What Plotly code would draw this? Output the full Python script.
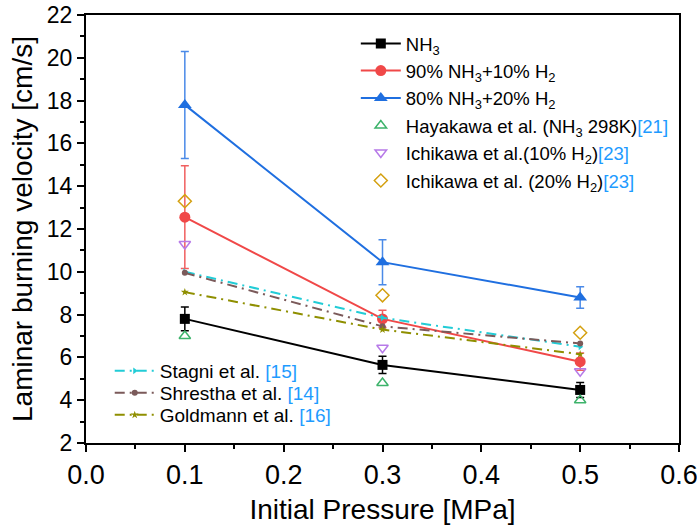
import plotly.graph_objects as go

pressure = [0.1, 0.3, 0.5]
x_ticks = [0.0, 0.1, 0.2, 0.3, 0.4, 0.5, 0.6]
x_tick_labels = ["0.0", "0.1", "0.2", "0.3", "0.4", "0.5", "0.6"]

nh3 = [7.8, 5.65, 4.48]
nh3_err = [0.55, 0.4, 0.35]
h10 = [12.55, 7.8, 5.8]
h10_err = [2.4, 0.4, 0.4]
h20 = [17.8, 10.45, 8.8]
h20_err = [2.5, 1.05, 0.5]

hayakawa = [7.0, 4.8, 4.0]
ichikawa10 = [11.3, 6.45, 5.35]
ichikawa20 = [13.3, 8.9, 7.15]

stagni = [10.0, 7.85, 6.5]
shrestha = [9.95, 7.45, 6.65]
goldmann = [9.05, 7.3, 6.15]

REF = "#1E9BFF"
FONT = "Liberation Sans, Arial, sans-serif"


def ref(n):
    return "<span style='color:" + REF + "'>[" + n + "]</span>"


fig = go.Figure()


def exp_trace(y, err, color, sym, size, name, ecol, lg):
    fig.add_trace(go.Scatter(
        x=pressure, y=y, mode="lines+markers", name=name, showlegend=True,
        line=dict(color=color, width=2),
        marker=dict(symbol=sym, size=size, color=color),
        error_y=dict(type="data", array=err, visible=True, color=ecol, thickness=1.5, width=4),
        legend=lg))


exp_trace(nh3, nh3_err, "#000000", "square", 10, "NH<sub>3</sub>", "#000000", "legend")
exp_trace(h10, h10_err, "#F04848", "circle", 11, "90% NH<sub>3</sub>+10% H<sub>2</sub>", "#F06060", "legend2")
exp_trace(h20, h20_err, "#1F6FE0", "triangle-up", 12, "80% NH<sub>3</sub>+20% H<sub>2</sub>", "#4A8AE8", "legend3")


def open_trace(y, color, sym, name, lg):
    fig.add_trace(go.Scatter(
        x=pressure, y=y, mode="markers", name=name, showlegend=True,
        marker=dict(symbol=sym, size=10, color=color, line=dict(color=color, width=1.5)),
        legend=lg))


open_trace(hayakawa, "#3DB36B", "triangle-up-open", "Hayakawa et al. (NH<sub>3</sub> 298K)" + ref("21"), "legend4")
open_trace(ichikawa10, "#B77AE8", "triangle-down-open", "Ichikawa et al.(10% H<sub>2</sub>)" + ref("23"), "legend5")
open_trace(ichikawa20, "#D4A010", "diamond-open", "Ichikawa et al. (20% H<sub>2</sub>)" + ref("23"), "legend6")


def model_trace(y, color, sym, name, lg):
    fig.add_trace(go.Scatter(
        x=pressure, y=y, mode="lines+markers", name=name, showlegend=True,
        line=dict(color=color, width=2, dash="10px,5px,2px,5px"),
        marker=dict(symbol=sym, size=6, color=color),
        legend=lg))


model_trace(stagni, "#22CCD6", "triangle-right", "Stagni et al. " + ref("15"), "legend7")
model_trace(shrestha, "#7B5A5A", "circle", "Shrestha et al. " + ref("14"), "legend8")
model_trace(goldmann, "#8F8F00", "star", "Goldmann et al. " + ref("16"), "legend9")

axis_common = dict(
    showline=True, linecolor="black", linewidth=2, mirror=True,
    ticks="outside", ticklen=7, tickwidth=2, tickcolor="black",
    showgrid=False, zeroline=False, ticklabeloverflow="allow", automargin=False,
)

fig.update_xaxes(
    range=[0, 0.6], tickmode="array", tickvals=x_ticks, ticktext=x_tick_labels,
    tickfont=dict(family=FONT, size=27, color="black"),
    minor=dict(dtick=0.05, tick0=0, ticks="outside", ticklen=4, tickwidth=2, tickcolor="black"),
    title=dict(text="Initial Pressure [MPa]", font=dict(family=FONT, size=28, color="black"), standoff=10),
    **axis_common)
fig.update_yaxes(
    range=[2, 22], dtick=2,
    tickfont=dict(family=FONT, size=23, color="black"),
    minor=dict(dtick=1, ticks="outside", ticklen=4, tickwidth=2, tickcolor="black"),
    title=dict(text="Laminar burning velocity [cm/s]", font=dict(family=FONT, size=28, color="black"), standoff=6),
    **axis_common)


# legend rows (pixel rows converted to paper fractions of the 428px plot height)
def lg_y(px):
    return (443 - px) / 428.0


legend_rows = {
    "legend": (0.455, 44, 18.5), "legend2": (0.455, 71, 18.5), "legend3": (0.455, 98.5, 18.5),
    "legend4": (0.455, 126, 18.5), "legend5": (0.455, 153, 18.5), "legend6": (0.455, 181, 18.5),
    "legend7": (0.04, 371, 19), "legend8": (0.04, 393, 19), "legend9": (0.04, 415, 19),
}
legend_layout = {}
for key, (lx, py, fs) in legend_rows.items():
    legend_layout[key] = dict(x=lx, y=lg_y(py), xanchor="left", yanchor="middle",
                              bgcolor="rgba(0,0,0,0)", borderwidth=0, visible=True,
                              font=dict(family=FONT, size=fs, color="black"),
                              tracegroupgap=0, itemwidth=40)

fig.update_layout(
    width=697, height=531,
    margin=dict(l=86, r=18, t=15, b=88, autoexpand=False),
    paper_bgcolor="white", plot_bgcolor="white",
    font=dict(family=FONT, color="black"),
    showlegend=True,
    **legend_layout,
)

fig.write_html("out.html")
